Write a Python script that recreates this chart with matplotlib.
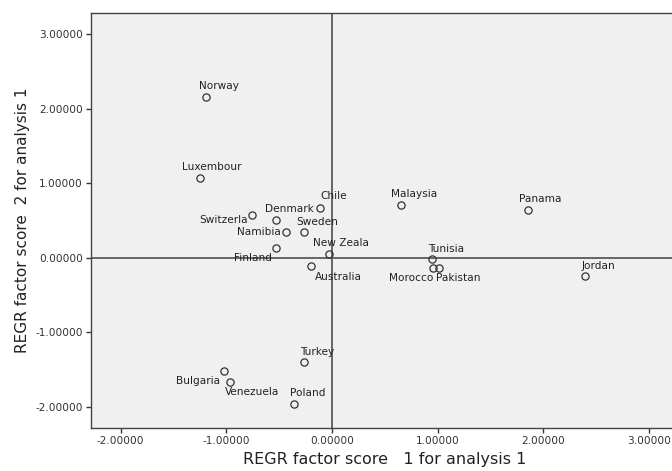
import matplotlib
matplotlib.use("Agg")
import matplotlib.pyplot as plt

# ---- data ----
countries = ["Norway", "Luxembour", "Chile", "Denmark", "Switzerla", "Sweden",
             "Namibia", "New Zeala", "Finland", "Australia", "Malaysia", "Tunisia",
             "Morocco", "Pakistan", "Panama", "Jordan", "Turkey", "Bulgaria",
             "Venezuela", "Poland"]
factor1 = [-1.19, -1.25, -0.11, -0.53, -0.755, -0.26, -0.43, -0.03, -0.53, -0.20,
           0.65, 0.95, 0.955, 1.01, 1.856, 2.40, -0.26, -1.02, -0.96, -0.36]
factor2 = [2.16, 1.076, 0.67, 0.51, 0.57, 0.34, 0.34, 0.045, 0.13, -0.11,
           0.705, -0.02, -0.14, -0.13, 0.635, -0.245, -1.40, -1.517, -1.66, -1.96]
tick_values = [-2, -1, 0, 1, 2, 3]
tick_labels = ["-2.00000", "-1.00000", "0.00000", "1.00000", "2.00000", "3.00000"]
xlabel = "REGR factor score   1 for analysis 1"
ylabel = "REGR factor score  2 for analysis 1"

# ---- label placement (pixel offsets, anchor) ----
label_layout = {
    "Norway": (13, 11, "center"),
    "Luxembour": (12, 11, "center"),
    "Chile": (13.5, 11.5, "center"),
    "Denmark": (13, 11, "center"),
    "Switzerla": (-4.6, -4.7, "right"),
    "Sweden": (13, 10.3, "center"),
    "Namibia": (-5.3, 0, "right"),
    "New Zeala": (12, 11, "center"),
    "Finland": (-4.3, -10, "right"),
    "Australia": (4.4, -10.7, "left"),
    "Malaysia": (13.3, 10.7, "center"),
    "Tunisia": (13.7, 10.7, "center"),
    "Morocco": (0.6, -10, "right"),
    "Pakistan": (-2.3, -10.6, "left"),
    "Panama": (12.5, 11, "center"),
    "Jordan": (13.5, 10.3, "center"),
    "Turkey": (13, 10.6, "center"),
    "Bulgaria": (-3.7, -10, "right"),
    "Venezuela": (-5.7, -10, "left"),
    "Poland": (13.5, 10.7, "center"),
}

W, H = 672, 471
fig = plt.figure(figsize=(W / 100, H / 100), dpi=100)
fig.patch.set_facecolor("white")
left, right, bottom, top = 91, 678.4, 428, 13
ax = fig.add_axes([left / W, (H - bottom) / H, (right - left) / W, (bottom - top) / H])
ax.set_facecolor("#f0f0f0")

ax.axhline(0, color="#5a5a5a", lw=1.3, zorder=1)
ax.axvline(0, color="#5a5a5a", lw=1.3, zorder=1)

ax.plot(factor1, factor2, linestyle="none", marker="o", markersize=5.2,
        markerfacecolor="none", markeredgecolor="#333333", markeredgewidth=0.9, zorder=3)

for name, x, y in zip(countries, factor1, factor2):
    dx, dy, ha = label_layout[name]
    ax.annotate(name, (x, y), xytext=(dx, dy), textcoords="offset pixels",
                ha=ha, va="center", fontsize=7.6, color="#222222", zorder=4)

ax.set_xlim(-2.28, 3.28)
ax.set_ylim(-2.28, 3.28)
ax.set_xticks(tick_values)
ax.set_xticklabels(tick_labels)
ax.set_yticks(tick_values)
ax.set_yticklabels(tick_labels)
ax.tick_params(direction="out", length=3.8, width=1, color="#333333",
               labelsize=7.6, labelcolor="#333333", pad=2)

for s in ax.spines.values():
    s.set_color("#444444")
    s.set_linewidth(1.0)

ax.set_xlabel(xlabel, fontsize=11.5, color="#222222", labelpad=4)
ax.set_ylabel(ylabel, fontsize=11, color="#222222", labelpad=4)

fig.savefig("out.png", dpi=100, facecolor="white")
